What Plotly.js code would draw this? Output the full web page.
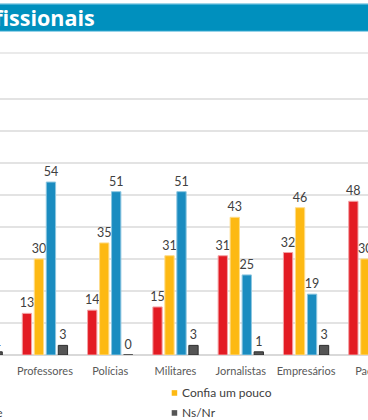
<!DOCTYPE html>
<html>
<head>
<meta charset="utf-8">
<script src="https://cdn.plot.ly/plotly-3.0.1.min.js"></script>
<style>
  html, body { margin: 0; padding: 0; width: 368px; height: 420px; overflow: hidden; background: #fff; }
  #chart { position: absolute; left: -100px; top: 0; width: 560px; height: 420px; }
</style>
</head>
<body>
<div id="chart"></div>
<script>
// ---- data (null = outside the visible crop) ----
const categories = ["Juízes", "Professores", "Polícias", "Militares", "Jornalistas", "Empresários", "Padres"];
const naoConfia      = [null, 13, 14, 15, 31, 32, 48];
const confiaUmPouco  = [null, 30, 35, 31, 43, 46, 30];
const confiaBastante = [null, 54, 51, 51, 25, 19, null];
const nsNr           = [1, 3, 0, 3, 1, 3, null];
const seriesNames = ["Não confia", "Confia um pouco", "Confia bastante", "Ns/Nr"];
const titleText = "Confiança nos profissionais";
const gridValues = [0, 10, 20, 30, 40, 50, 60, 70, 80];

// ---- layout geometry (pixels) ----
const OFFSET = 100, W = 560, H = 420;
const ML = 47.2, PW = 457.2, MR = W - ML - PW;
const MT = 52.7, MB = 65, PH = H - MT - MB;
const px2x = wx => (wx + OFFSET - ML) / PW;
const px2y = wy => (H - MB - wy) / PH;

const colors = ["#E31B23", "#FDB913", "#1A8CC0", "#555555"];
const edge = ["#F3A3A6", "#FEDC8A", "#8CC6E0", "#2E2E2E"];
const values = [naoConfia, confiaUmPouco, confiaBastante, nsNr];

const traces = values.map((v, i) => ({
  type: "bar",
  name: seriesNames[i],
  x: categories,
  y: v,
  marker: { color: colors[i], line: { color: edge[i], width: 1 } },
  text: v.map(d => d === null ? "" : String(d)),
  textposition: "outside",
  constraintext: "none",
  textfont: { family: "Lato, 'Open Sans', sans-serif", size: 12.5, color: "#404040" },
  cliponaxis: false,
  hoverinfo: "skip"
}));

const shapes = [
  // title banner
  { type: "rect", xref: "paper", yref: "paper", x0: px2x(-OFFSET), x1: px2x(W - OFFSET), y0: px2y(31), y1: px2y(3.5),
    fillcolor: "#0090BE", line: { width: 0 }, layer: "above" },
  { type: "line", xref: "paper", yref: "paper", x0: px2x(-OFFSET), x1: px2x(W - OFFSET), y0: px2y(3.8), y1: px2y(3.8),
    line: { color: "#6BC0DE", width: 1 } },
  { type: "line", xref: "paper", yref: "paper", x0: px2x(-OFFSET), x1: px2x(W - OFFSET), y0: px2y(31), y1: px2y(31),
    line: { color: "#8FD0E8", width: 1 } },
  // top border line of plot area
  { type: "line", xref: "paper", yref: "paper", x0: 0, x1: 1, y0: 1, y1: 1, line: { color: "#E3E3E3", width: 1.5 } }
];

const legendFont = { family: "Lato, 'Open Sans', sans-serif", size: 12, color: "#404040" };
const legendItems = [
  { name: seriesNames[0], color: colors[0], sq: -82, row: 393, anchor: "left", tx: -73 },
  { name: seriesNames[1], color: colors[1], sq: 172, row: 393, anchor: "left", tx: 180.5 },
  { name: seriesNames[2], color: colors[2], sq: -82, row: 413, anchor: "right", tx: 5.5 },
  { name: seriesNames[3], color: colors[3], sq: 172, row: 413, anchor: "left", tx: 180.5 }
];
legendItems.forEach(it => {
  shapes.push({ type: "rect", xref: "paper", yref: "paper",
    x0: px2x(it.sq), x1: px2x(it.sq + 5.5), y0: px2y(it.row + 2.8), y1: px2y(it.row - 2.8),
    fillcolor: it.color, line: { width: 0 } });
});

const annotations = legendItems.map(it => ({
  xref: "paper", yref: "paper", x: px2x(it.tx), y: px2y(it.row),
  xanchor: it.anchor, yanchor: "middle", text: it.name, showarrow: false, font: legendFont
}));
annotations.push({
  xref: "paper", yref: "paper", x: px2x(97.5), y: px2y(17.5), xanchor: "right", yanchor: "middle",
  text: "<b>" + titleText + "</b>", showarrow: false,
  font: { family: "'Open Sans', sans-serif", size: 21.5, color: "#FFFFFF" }
});

const layout = {
  width: W, height: H,
  margin: { l: ML, r: MR, t: MT, b: MB, pad: 0 },
  paper_bgcolor: "#FFFFFF", plot_bgcolor: "#FFFFFF",
  showlegend: false,
  barmode: "group", bargap: 0.265, bargroupgap: 0.225,
  xaxis: {
    type: "category", range: [-0.5, categories.length - 0.5], fixedrange: true,
    showgrid: false, showline: false, zeroline: false, ticks: "", ticklabelstandoff: 8,
    tickfont: { family: "Lato, 'Open Sans', sans-serif", size: 11, color: "#595959" }
  },
  yaxis: {
    range: [0, 94.3], tickmode: "array", tickvals: gridValues, showticklabels: false,
    showgrid: true, gridcolor: "#E3E3E3", gridwidth: 1.5,
    zeroline: true, zerolinecolor: "#D9D9D9", zerolinewidth: 1.5, showline: false, fixedrange: true
  },
  shapes: shapes,
  annotations: annotations
};

Plotly.newPlot("chart", traces, layout, { staticPlot: true, displayModeBar: false });
</script>
</body>
</html>
